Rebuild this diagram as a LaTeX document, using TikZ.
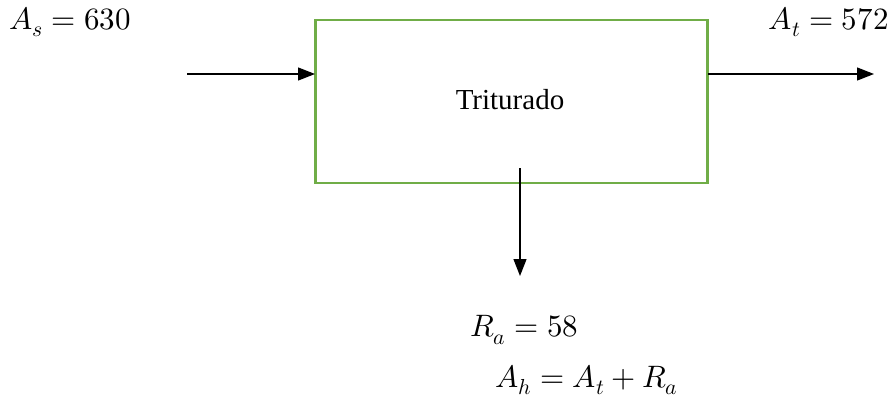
\documentclass[tikz,border=0pt]{standalone}
\usepackage{fontspec}
\usepackage{unicode-math}
\setmainfont{Liberation Serif}
\setmathfont{Latin Modern Math}
\usetikzlibrary{arrows.meta}
\begin{document}
\begin{tikzpicture}[x=1pt,y=-1pt,
  proc/.style={line width=2.2pt, minimum width=392pt, minimum height=163pt, inner sep=0pt},
  flow/.style={-{Triangle[length=17pt,width=13pt]}, line width=1.3pt},
  lbl/.style={inner sep=0pt, font=\fontsize{29}{35}\selectfont},
  mlbl/.style={inner sep=0pt, font=\fontsize{31}{37}\selectfont}]
\useasboundingbox (0,0) rectangle (894,399);
\node[proc, draw={rgb,255:red,112;green,173;blue,71}] (box) at (511.5,101.5) {};
\node[lbl] (name) at (510,100) {Triturado};
\coordinate (inL) at (187,74);
\coordinate (inR) at (315,74);
\coordinate (outL) at (708,74);
\coordinate (outR) at (874,74);
\coordinate (dT) at (520,168);
\coordinate (dB) at (520,276);
\draw[flow] (inL) -- (inR);
\draw[flow] (outL) -- (outR);
\draw[flow] (dT) -- (dB);
\node[mlbl, anchor=west] (as) at (9,22) {$A_s=630$};
\node[mlbl, anchor=east] (at) at (889,22) {$A_t=572$};
\node[mlbl, anchor=west] (ra) at (470,330) {$R_a=58$};
\node[mlbl, anchor=west] (ah) at (495,380) {$A_h=A_t+R_a$};
\end{tikzpicture}
\end{document}
